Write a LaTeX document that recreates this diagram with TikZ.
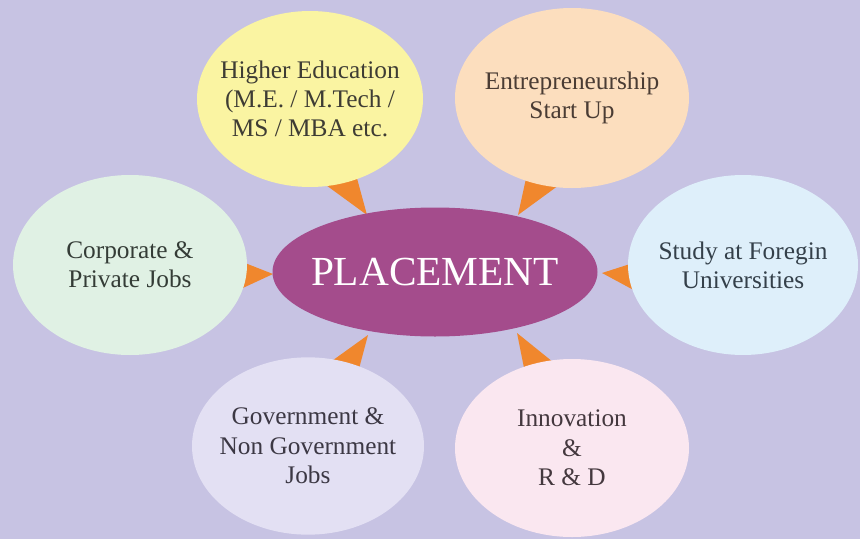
\documentclass[tikz,border=0pt]{standalone}
\usepackage{fontspec}
\setmainfont{Liberation Serif}
\usetikzlibrary{shapes.geometric,calc}

\definecolor{bgcol}{RGB}{199,195,227}
\definecolor{placecol}{RGB}{164,76,140}
\definecolor{tipcol}{RGB}{240,135,45}
\definecolor{educol}{RGB}{250,244,162}
\definecolor{entcol}{RGB}{252,222,190}
\definecolor{corpcol}{RGB}{224,241,228}
\definecolor{abroadcol}{RGB}{222,239,250}
\definecolor{govtcol}{RGB}{227,224,243}
\definecolor{innovcol}{RGB}{250,231,240}

\tikzset{
	bubble/.style={ellipse, inner sep=0pt},
	bubtext/.style={align=center, inner sep=0pt,
		font=\fontsize{19}{22}\selectfont},
	tipfill/.style={fill=tipcol},
}
\newcommand{\drawpointer}[3]{\fill[tipfill] (#1) -- ($(#1)!1.4!(#2)$) -- ($(#1)!1.4!(#3)$) -- cycle;}

\begin{document}
\begin{tikzpicture}[x=0.75pt,y=-0.75pt]
	
	\fill[bgcol] (0,0) rectangle (860,539);
	\useasboundingbox (0,0) rectangle (860,539);
	
	% pointers (tip, base, base)
	\coordinate (edutip) at (367,215);
	\coordinate (edua) at (330,188);
	\coordinate (edub) at (358,182);
	\coordinate (enttip) at (518,215);
	\coordinate (enta) at (525,183);
	\coordinate (entb) at (555,188);
	\coordinate (corptip) at (273,274);
	\coordinate (corpa) at (245,263);
	\coordinate (corpb) at (245,287);
	\coordinate (abroadtip) at (602,273);
	\coordinate (abroada) at (627,265);
	\coordinate (abroadb) at (628,287);
	\coordinate (govttip) at (368,335);
	\coordinate (govta) at (336,358);
	\coordinate (govtb) at (360,365);
	\coordinate (innovtip) at (517,333);
	\coordinate (innova) at (523,363);
	\coordinate (innovb) at (548,358);
	
	\drawpointer{edutip}{edua}{edub}
	\drawpointer{enttip}{enta}{entb}
	\drawpointer{corptip}{corpa}{corpb}
	\drawpointer{abroadtip}{abroada}{abroadb}
	\drawpointer{govttip}{govta}{govtb}
	\drawpointer{innovtip}{innova}{innovb}
	
	% bubbles
	\node[bubble, fill=educol, minimum width=169.5pt, minimum height=132pt,
		label={[bubtext, text={rgb,255:red,62;green,60;blue,52}]center:{Higher Education\\(M.E. / M.Tech /\\MS / MBA etc.}}]
		(edu) at (310,99) {};
	\node[bubble, fill=entcol, minimum width=175.5pt, minimum height=135pt,
		label={[bubtext, text={rgb,255:red,74;green,60;blue,52}]center:{Entrepreneurship\\Start Up}}]
		(ent) at (572,98) {};
	\node[bubble, fill=corpcol, minimum width=175.5pt, minimum height=135pt,
		label={[bubtext, text={rgb,255:red,52;green,60;blue,54}]center:{Corporate \&\\Private Jobs}}]
		(corp) at (130,265) {};
	\node[bubble, fill=abroadcol, minimum width=172.5pt, minimum height=135pt,
		label={[bubtext, text={rgb,255:red,52;green,64;blue,74}]center:{Study at Foregin\\Universities}}]
		(abroad) at (743,265) {};
	\node[bubble, fill=govtcol, minimum width=174pt, minimum height=133pt,
		label={[bubtext, text={rgb,255:red,60;green,56;blue,68}]center:{Government \&\\Non Government\\Jobs}}]
		(govt) at (308,446) {};
	\node[bubble, fill=innovcol, minimum width=175.5pt, minimum height=133.5pt,
		label={[bubtext, text={rgb,255:red,68;green,56;blue,62}]center:{Innovation\\\&\\R \& D}}]
		(innov) at (572,448) {};
	
	% centre
	\node[bubble, fill=placecol, minimum width=243.75pt, minimum height=96.75pt,
		label={[inner sep=0pt, text=white, font=\fontsize{31}{36}\selectfont]center:PLACEMENT}]
		(place) at (435,272) {};
	
\end{tikzpicture}
\end{document}
